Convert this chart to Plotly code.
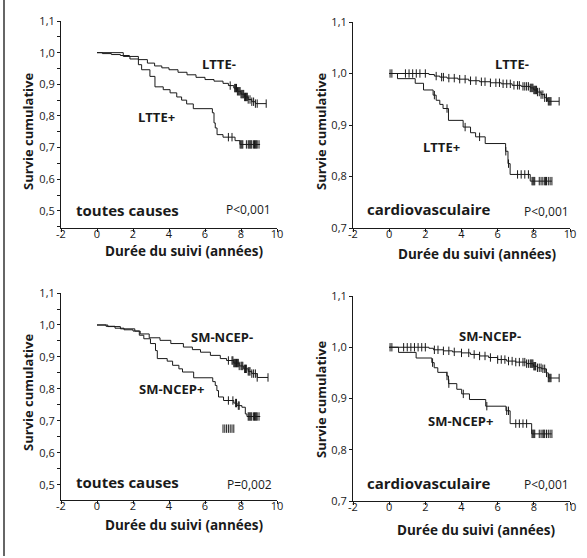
import numpy as np
import plotly.graph_objects as go

# ---------------- data ----------------
# Panel 1 : toutes causes, LTTE
p1_neg_t = [0.3, 0.8, 1.3, 1.8, 2.3, 2.8, 3.2, 3.6, 4.0, 4.5, 5.0, 5.5, 6.0, 6.5, 7.0, 7.3, 7.6, 7.8, 8.0, 8.2, 8.4, 8.6, 8.8]
p1_neg_s = [0.997, 0.994, 0.991, 0.988, 0.978, 0.967, 0.958, 0.952, 0.946, 0.938, 0.930, 0.922, 0.915, 0.910, 0.903, 0.896, 0.888, 0.878, 0.869, 0.860, 0.852, 0.845, 0.839]
p1_neg_end = 9.4
p1_neg_cens = [7.4, 7.65, 7.7, 7.75, 7.8, 7.85, 7.9, 7.95, 8.0, 8.05, 8.1, 8.15, 8.2, 8.25, 8.3, 8.35, 8.4, 8.5, 8.6, 8.7, 8.8, 8.9, 9.4]
p1_pos_t = [1.46, 1.83, 2.3, 2.48, 2.94, 3.22, 3.68, 4.06, 4.43, 4.7, 4.98, 5.35, 6.41, 6.5, 6.57, 6.67, 7.0, 7.67, 7.94]
p1_pos_s = [0.988, 0.980, 0.962, 0.946, 0.925, 0.892, 0.883, 0.873, 0.860, 0.850, 0.838, 0.823, 0.810, 0.778, 0.762, 0.741, 0.733, 0.722, 0.710]
p1_pos_end = 9.06
p1_pos_cens = [7.3, 7.5, 7.95, 8.0, 8.05, 8.1, 8.3, 8.4, 8.45, 8.5, 8.55, 8.6, 8.7, 8.75, 8.8, 8.85, 8.9, 9.0]

# Panel 2 : cardiovasculaire, LTTE
p2_neg_t = [2.2, 2.5, 2.8, 3.2, 3.8, 4.4, 5.0, 5.6, 6.2, 6.8, 7.3, 7.8, 8.0, 8.2, 8.4, 8.6, 8.75]
p2_neg_s = [0.998, 0.995, 0.993, 0.991, 0.989, 0.986, 0.984, 0.982, 0.980, 0.977, 0.975, 0.972, 0.968, 0.964, 0.959, 0.953, 0.946]
p2_neg_end = 9.4
p2_neg_cens = [0.05, 0.15, 0.9, 1.1, 1.3, 1.5, 1.7, 2.0, 2.6, 2.9, 3.0, 3.3, 3.6, 3.9, 4.2, 4.5, 4.8, 5.1, 5.3, 5.6,
               5.9, 6.1, 6.3, 6.5, 6.7, 6.9, 7.1, 7.2, 7.4, 7.5, 7.6, 7.7, 7.8, 7.85, 7.9, 7.95, 8.0, 8.05, 8.1,
               8.15, 8.2, 8.3, 8.4, 8.5, 8.6, 8.7, 8.8, 8.85, 8.9, 8.95, 9.4]
p2_pos_t = [0.46, 1.44, 1.9, 2.43, 2.6, 2.8, 2.98, 3.28, 4.09, 4.5, 4.78, 5.31, 6.44, 6.57, 6.69, 7.8]
p2_pos_s = [0.990, 0.981, 0.968, 0.958, 0.948, 0.940, 0.932, 0.909, 0.896, 0.885, 0.877, 0.864, 0.849, 0.825, 0.804, 0.791]
p2_pos_end = 9.0
p2_pos_cens = [2.5, 3.2, 4.2, 5.0, 6.45, 6.6, 7.1, 7.3, 7.5, 7.7, 7.9, 7.95, 8.0, 8.05, 8.3, 8.4, 8.5, 8.6, 8.65, 8.7, 8.8, 8.9, 9.0]

# Panel 3 : toutes causes, SM-NCEP
p3_neg_t = [0.5, 1.0, 1.5, 2.0, 2.4, 2.9, 3.5, 4.1, 4.8, 5.3, 5.75, 6.3, 6.85, 7.2, 7.6, 7.9, 8.15, 8.4, 8.6, 8.9]
p3_neg_s = [0.996, 0.990, 0.985, 0.981, 0.972, 0.960, 0.952, 0.942, 0.931, 0.923, 0.915, 0.905, 0.895, 0.889, 0.881, 0.872, 0.863, 0.855, 0.848, 0.836]
p3_neg_end = 9.5
p3_neg_cens = [7.3, 7.5, 7.55, 7.6, 7.65, 7.7, 7.75, 7.8, 7.85, 7.9, 8.0, 8.05, 8.1, 8.2, 8.25, 8.3, 8.4, 8.45, 8.5, 8.6, 8.7, 8.8, 8.9, 9.5]
p3_pos_t = [0.6, 1.3, 2.1, 2.35, 2.6, 2.97, 3.25, 3.35, 3.9, 4.2, 4.55, 4.75, 5.37, 6.43, 6.57, 6.66, 6.75, 7.03, 7.6, 7.78, 8.05, 8.24, 8.33]
p3_pos_s = [0.995, 0.988, 0.981, 0.968, 0.957, 0.942, 0.920, 0.895, 0.887, 0.874, 0.863, 0.853, 0.835, 0.823, 0.811, 0.795, 0.775, 0.764, 0.756, 0.748, 0.743, 0.722, 0.714]
p3_pos_end = 9.07
p3_pos_cens = [7.3, 7.55, 7.7, 7.75, 7.85, 7.9, 8.4, 8.45, 8.5, 8.55, 8.6, 8.7, 8.75, 8.8, 8.85, 8.9, 9.0]
p3_stray_cens = [7.0, 7.1, 7.2, 7.3, 7.4, 7.5, 7.6]
p3_stray_s = 0.676

# Panel 4 : cardiovasculaire, SM-NCEP
p4_neg_t = [2.2, 2.45, 3.0, 3.5, 4.0, 4.5, 5.0, 5.5, 6.0, 6.5, 7.0, 7.6, 7.97, 8.2, 8.43, 8.67, 8.8]
p4_neg_s = [0.998, 0.995, 0.993, 0.991, 0.989, 0.986, 0.983, 0.980, 0.976, 0.973, 0.971, 0.968, 0.963, 0.960, 0.958, 0.950, 0.940]
p4_neg_end = 9.4
p4_neg_cens = [0.05, 0.15, 0.8, 1.0, 1.2, 1.4, 1.6, 1.8, 2.0, 2.5, 2.7, 3.0, 3.3, 3.6, 4.0, 4.4, 4.7, 5.0, 5.3,
               5.6, 6.0, 6.2, 6.4, 6.6, 6.8, 7.0, 7.2, 7.4, 7.5, 7.6, 7.7, 7.8, 7.85, 7.9, 7.95, 8.0, 8.05,
               8.1, 8.2, 8.3, 8.4, 8.5, 8.6, 8.7, 8.8, 8.85, 8.9, 8.95, 9.4]
p4_pos_t = [0.52, 1.49, 2.36, 2.49, 2.69, 3.19, 3.28, 3.74, 4.01, 4.44, 5.34, 6.46, 6.69, 7.88]
p4_pos_s = [0.990, 0.979, 0.970, 0.960, 0.951, 0.944, 0.929, 0.918, 0.909, 0.898, 0.885, 0.876, 0.851, 0.831]
p4_pos_end = 8.99
p4_pos_cens = [2.4, 3.2, 3.3, 4.1, 5.4, 6.5, 6.6, 7.0, 7.2, 7.4, 7.6, 7.9, 7.95, 8.0, 8.05, 8.3, 8.4, 8.5, 8.55, 8.6, 8.7, 8.8, 8.9, 9.0]

x_ticks = [-2, 0, 2, 4, 6, 8, 10]
x_tick_text = ["-2", "0", "2", "4", "6", "8", "10"]
y_ticks_all = [0.5, 0.6, 0.7, 0.8, 0.9, 1.0, 1.1]
y_text_all = ["0,5", "0,6", "0,7", "0,8", "0,9", "1,0", "1,1"]
y_ticks_cv = [0.7, 0.8, 0.9, 1.0, 1.1]
y_text_cv = ["0,7", "0,8", "0,9", "1,0", "1,1"]

panel_titles = ["toutes causes", "cardiovasculaire", "toutes causes", "cardiovasculaire"]
p_values = ["P<0,001", "P<0,001", "P=0,002", "P<0,001"]
group_labels = [("LTTE-", "LTTE+"), ("LTTE-", "LTTE+"), ("SM-NCEP-", "SM-NCEP+"), ("SM-NCEP-", "SM-NCEP+")]
x_title = "Durée du suivi (années)"
y_title = "Survie cumulative"

# ---------------- figure ----------------
W, H = 587, 558
FONT = "Open Sans, Noto Sans, sans-serif"
INK = "#1a1a1a"

fig = go.Figure()


def step_xy(t, s, end):
    xs = [0.0] + list(t) + [end]
    ys = [1.0] + list(s) + [s[-1]]
    return xs, ys


def cens_y(t, s, cens):
    t = np.asarray(t)
    s = np.asarray(s)
    out = []
    for c in cens:
        i = np.searchsorted(t, c, side="right")
        out.append(1.0 if i == 0 else float(s[i - 1]))
    return out


CENS_MARKER = dict(symbol="line-ns-open", size=6, color=INK, line=dict(color=INK, width=1))

panels = [
    (p1_neg_t, p1_neg_s, p1_neg_end, p1_neg_cens, p1_pos_t, p1_pos_s, p1_pos_end, p1_pos_cens),
    (p2_neg_t, p2_neg_s, p2_neg_end, p2_neg_cens, p2_pos_t, p2_pos_s, p2_pos_end, p2_pos_cens),
    (p3_neg_t, p3_neg_s, p3_neg_end, p3_neg_cens, p3_pos_t, p3_pos_s, p3_pos_end, p3_pos_cens),
    (p4_neg_t, p4_neg_s, p4_neg_end, p4_neg_cens, p4_pos_t, p4_pos_s, p4_pos_end, p4_pos_cens),
]

for k, (nt, ns, ne, nc, pt, ps, pe, pc) in enumerate(panels):
    xa = "x" if k == 0 else f"x{k+1}"
    ya = "y" if k == 0 else f"y{k+1}"
    for (t, s, e, c) in [(nt, ns, ne, nc), (pt, ps, pe, pc)]:
        xs, ys = step_xy(t, s, e)
        fig.add_trace(go.Scatter(x=xs, y=ys, mode="lines", line=dict(color=INK, width=1, shape="hv"),
                                 xaxis=xa, yaxis=ya, hoverinfo="skip", showlegend=False))
        fig.add_trace(go.Scatter(x=c, y=cens_y(t, s, c), mode="markers", marker=CENS_MARKER,
                                 xaxis=xa, yaxis=ya, hoverinfo="skip", showlegend=False))
    if k == 2:
        fig.add_trace(go.Scatter(x=p3_stray_cens, y=[p3_stray_s] * len(p3_stray_cens), mode="markers",
                                 marker=CENS_MARKER, xaxis=xa, yaxis=ya, hoverinfo="skip", showlegend=False))

# axis geometry in pixels: (x_left, x_right, y_top, y_bottom)
geo = [(61, 277, 21, 228), (353, 570, 22, 228), (61, 277, 293, 500), (353, 570, 296, 501)]
y_ranges = [[0.446, 1.1], [0.7, 1.1], [0.453, 1.1], [0.7, 1.1]]

layout = dict(
    width=W, height=H, margin=dict(l=0, r=0, t=0, b=0, autoexpand=False),
    paper_bgcolor="white", plot_bgcolor="white",
    font=dict(family=FONT, size=11, color=INK),
    showlegend=False,
)
for k in range(4):
    xl, xr, yt, yb = geo[k]
    xname = "xaxis" if k == 0 else f"xaxis{k+1}"
    yname = "yaxis" if k == 0 else f"yaxis{k+1}"
    ya = "y" if k == 0 else f"y{k+1}"
    xa = "x" if k == 0 else f"x{k+1}"
    cv = k in (1, 3)
    layout[xname] = dict(domain=[xl / W, xr / W], range=[-2, 10], anchor=ya, automargin=False,
                         tickvals=x_ticks, ticktext=x_tick_text, ticks="outside", ticklen=3,
                         ticklabelstandoff=-7,
                         tickwidth=1, tickcolor=INK, showline=True, linecolor=INK, linewidth=1,
                         showgrid=False, zeroline=False, tickfont=dict(size=11, color=INK, family=FONT))
    yax = dict(domain=[1 - yb / H, 1 - yt / H], range=y_ranges[k], anchor=xa, automargin=False,
               tickvals=y_ticks_cv if cv else y_ticks_all,
               ticktext=y_text_cv if cv else y_text_all,
               ticks="outside", ticklen=3, tickwidth=1, tickcolor=INK, ticklabelstandoff=0,
               showline=True, linecolor=INK, linewidth=1,
               showgrid=False, zeroline=False, tickfont=dict(size=11, color=INK, family=FONT))
    if not cv:
        yax["minor"] = dict(dtick=0.05, tick0=0.5, ticks="outside", ticklen=3, tickcolor=INK, showgrid=False)
    layout[yname] = yax
fig.update_layout(**layout)

# annotations (data coordinates of each panel)
ann_pos = [
    dict(neg=(6.78, 0.964), pos=(3.33, 0.797), title=(1.67, 0.503), p=(8.44, 0.503)),
    dict(neg=(6.78, 1.018), pos=(2.9, 0.857), title=(2.23, 0.736), p=(8.69, 0.733)),
    dict(neg=(6.96, 0.962), pos=(4.15, 0.799), title=(1.67, 0.509), p=(8.46, 0.503)),
    dict(neg=(5.58, 1.021), pos=(3.94, 0.857), title=(2.23, 0.735), p=(8.69, 0.732)),
]
# axis-title positions in pixels
xt_pos = [(184, 251), (477, 254), (184, 525), (476, 530)]
yt_pos = [(28, 132), (321, 132), (28, 393), (321, 400)]

C = dict(showarrow=False, xanchor="center", yanchor="middle")
anns = []
for k in range(4):
    xa = "x" if k == 0 else f"x{k+1}"
    ya = "y" if k == 0 else f"y{k+1}"
    a = ann_pos[k]
    anns.append(dict(x=a["neg"][0], y=a["neg"][1], xref=xa, yref=ya, text=f"<b>{group_labels[k][0]}</b>",
                     font=dict(size=13, family=FONT, color=INK), **C))
    anns.append(dict(x=a["pos"][0], y=a["pos"][1], xref=xa, yref=ya, text=f"<b>{group_labels[k][1]}</b>",
                     font=dict(size=13, family=FONT, color=INK), **C))
    anns.append(dict(x=a["title"][0], y=a["title"][1], xref=xa, yref=ya, text=f"<b>{panel_titles[k]}</b>",
                     font=dict(size=15, family=FONT, color=INK), **C))
    anns.append(dict(x=a["p"][0], y=a["p"][1], xref=xa, yref=ya, text=p_values[k],
                     font=dict(size=12, family=FONT, color=INK), **C))
    anns.append(dict(x=xt_pos[k][0] / W, y=1 - xt_pos[k][1] / H, xref="paper", yref="paper",
                     text=f"<b>{x_title}</b>", font=dict(size=13.5, family=FONT, color=INK), **C))
    anns.append(dict(x=yt_pos[k][0] / W, y=1 - yt_pos[k][1] / H, xref="paper", yref="paper",
                     text=f"<b>{y_title}</b>", textangle=-90,
                     font=dict(size=13, family=FONT, color=INK), **C))
fig.update_layout(annotations=anns)

# left frame line of the figure
fig.add_shape(type="line", xref="paper", yref="paper", x0=4 / W, x1=4 / W, y0=1 - 556 / H, y1=1,
              line=dict(color="#333333", width=1.5))

fig.write_html("out.html", config={"displayModeBar": False},
               post_script="document.body.style.margin='0';")
